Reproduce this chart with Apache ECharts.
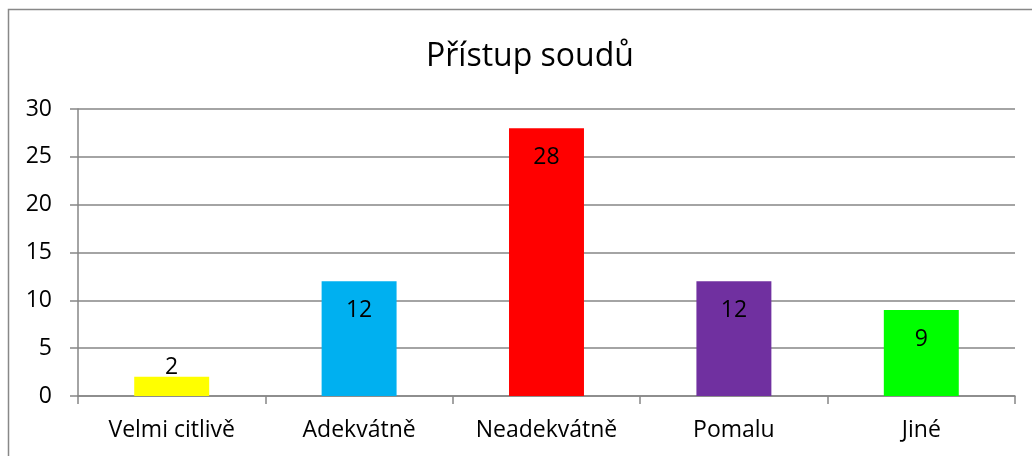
<!DOCTYPE html>
<html>
<head>
<meta charset="utf-8">
<script src="https://cdn.jsdelivr.net/npm/echarts@6/dist/echarts.min.js"></script>
<style>
  html, body { margin: 0; padding: 0; background: #fff; }
  #chart { width: 1032px; height: 456px; }
</style>
</head>
<body>
<div id="chart"></div>
<script>
const categories = ['Velmi citlivě', 'Adekvátně', 'Neadekvátně', 'Pomalu', 'Jiné']
const values = [2, 12, 28, 12, 9]
const barColors = ['#FFFF00', '#00B0F0', '#FF0000', '#7030A0', '#00FF00']

const font = 'Open Sans, Noto Sans, sans-serif'

const chart = echarts.init(document.getElementById('chart'))
chart.setOption({
  animation: false,
  backgroundColor: '#fff',
  title: {
    text: 'Přístup soudů',
    left: 421,
    top: 36,
    textStyle: { fontFamily: font, fontSize: 32, fontWeight: 'normal', color: '#000' }
  },
  graphic: [{
    type: 'rect',
    shape: { x: 8.5, y: 9.5, width: 1040, height: 470 },
    style: { fill: 'none', stroke: '#888', lineWidth: 1.5 },
    silent: true
  }],
  grid: { left: 78, right: 17, top: 109, bottom: 60 },
  xAxis: {
    type: 'category',
    data: categories,
    axisLine: { lineStyle: { color: '#868686', width: 1.5 } },
    axisTick: { show: true, length: 8, lineStyle: { color: '#868686', width: 1.5 } },
    axisLabel: { fontFamily: font, fontSize: 23, color: '#000', margin: 23 }
  },
  yAxis: {
    type: 'value',
    min: 0,
    max: 30,
    interval: 5,
    axisLine: { show: true, lineStyle: { color: '#868686', width: 1.5 } },
    axisTick: { show: true, length: 8, lineStyle: { color: '#868686', width: 1.5 } },
    axisLabel: { fontFamily: font, fontSize: 23, color: '#000', margin: 26 },
    splitLine: { lineStyle: { color: '#868686', width: 1.5 } }
  },
  series: [{
    type: 'bar',
    barWidth: '40%',
    data: values.map((v, i) => ({
      value: v,
      itemStyle: { color: barColors[i] },
      label: v < 5 ? { position: 'top', distance: -2 } : {}
    })),
    label: {
      show: true,
      position: 'insideTop',
      distance: 18,
      fontFamily: font,
      fontSize: 23,
      color: '#000'
    }
  }]
})
</script>
</body>
</html>
